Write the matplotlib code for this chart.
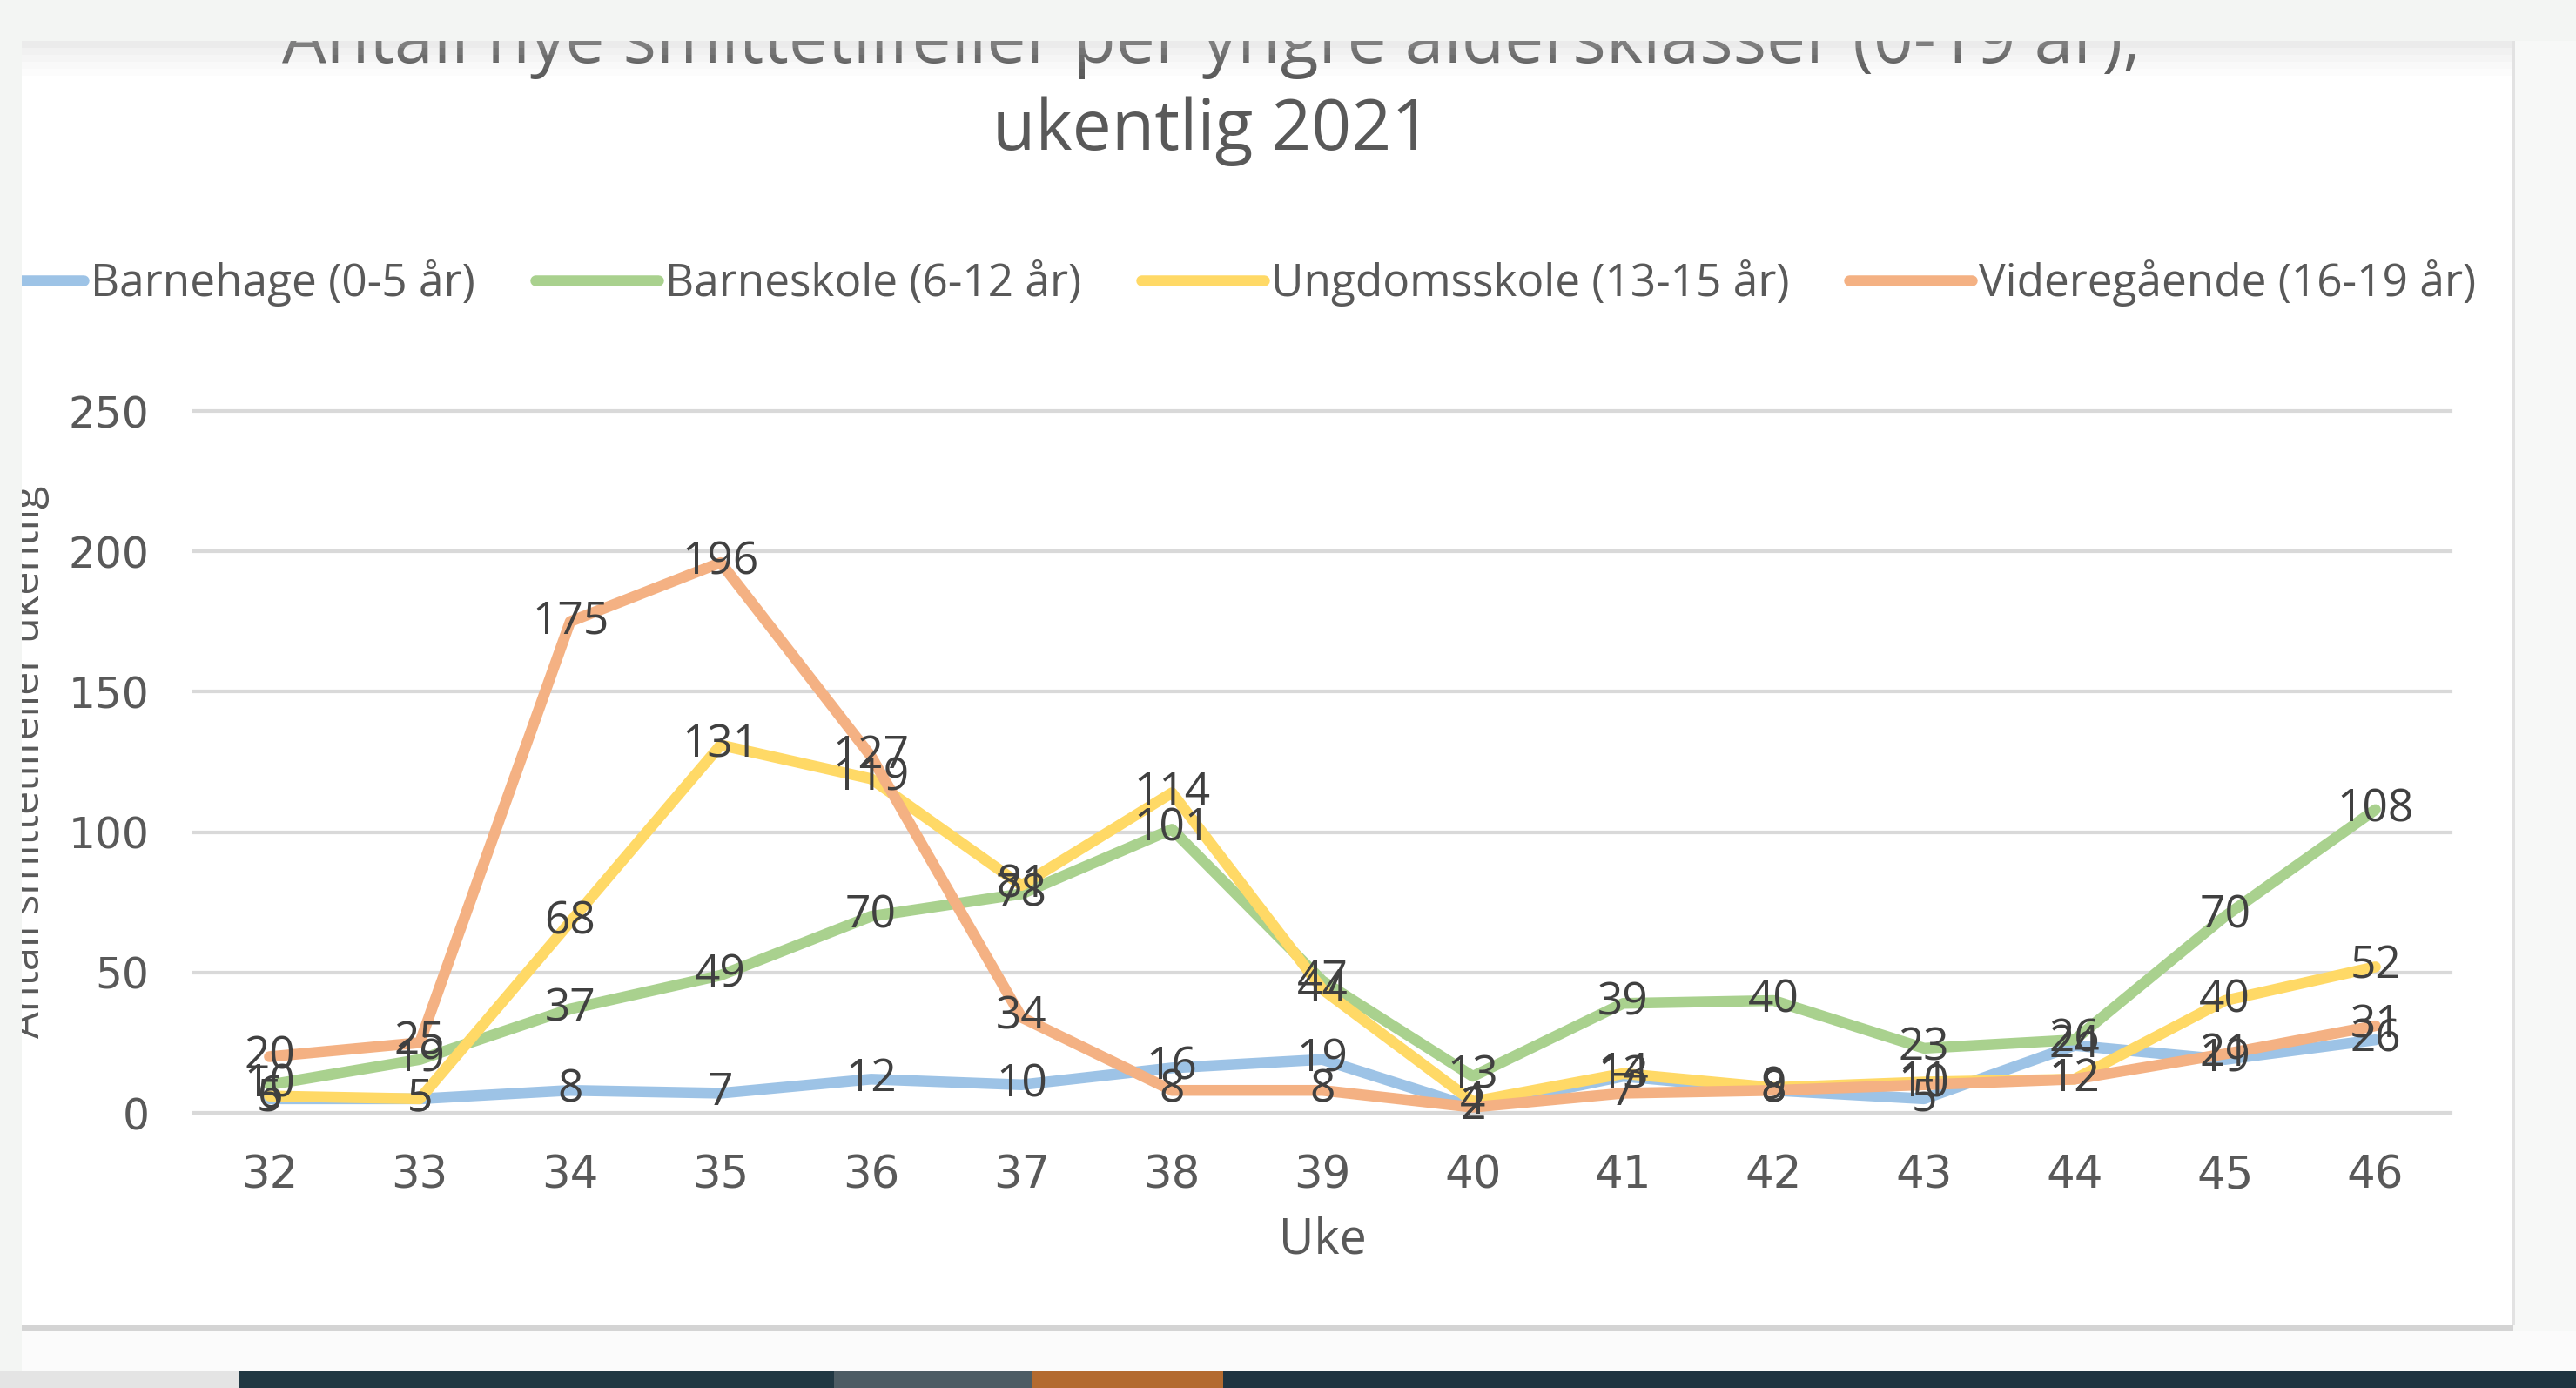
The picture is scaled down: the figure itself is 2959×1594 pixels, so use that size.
import matplotlib
matplotlib.use('Agg')
import matplotlib.pyplot as plt
from matplotlib.patches import Rectangle

W, H = 2959, 1594

weeks = [32, 33, 34, 35, 36, 37, 38, 39, 40, 41, 42, 43, 44, 45, 46]
barnehage = [5, 5, 8, 7, 12, 10, 16, 19, 2, 13, 8, 5, 24, 19, 26]
barneskole = [10, 19, 37, 49, 70, 78, 101, 47, 13, 39, 40, 23, 26, 70, 108]
ungdomsskole = [6, 5, 68, 131, 119, 81, 114, 44, 4, 14, 9, 11, 12, 40, 52]
videregaende = [20, 25, 175, 196, 127, 34, 8, 8, 2, 7, 8, 10, 12, 21, 31]

series = [
    ('Barnehage (0-5 år)', barnehage, '#9dc3e6'),
    ('Barneskole (6-12 år)', barneskole, '#a9d18e'),
    ('Ungdomsskole (13-15 år)', ungdomsskole, '#ffd966'),
    ('Videregående (16-19 år)', videregaende, '#f4b183'),
]

txt = '#595959'
lab = '#404040'
plt.rcParams['font.family'] = ['Open Sans', 'DejaVu Sans']


def px(x, y):
    return x / W, 1 - y / H


def rect(x0, y0, x1, y1, color, z, alpha=1.0):
    fx, fy = px(x0, y1)
    fig.patches.append(Rectangle((fx, fy), (x1 - x0) / W, (y1 - y0) / H,
                                 transform=fig.transFigure, facecolor=color,
                                 edgecolor='none', zorder=z, alpha=alpha))


fig = plt.figure(figsize=(W / 100, H / 100), dpi=100)
fig.patch.set_facecolor('#f3f5f3')

# white chart card
rect(25, 47, 2887, 1522, 'white', -5)

left, right, top, bottom = 223, 2815, 472, 1278
ax = fig.add_axes([left / W, 1 - bottom / H, (right - left) / W, (bottom - top) / H])
ax.set_facecolor('white')

for name, vals, col in series:
    ax.plot(weeks, vals, color=col, lw=9, label=name,
            solid_capstyle='round', solid_joinstyle='round')
for name, vals, col in series:
    for w, v in zip(weeks, vals):
        ax.text(w, v, str(v), ha='center', va='center', fontsize=37, color=lab, zorder=5)

ax.set_xlim(31.5, 46.5)
ax.set_ylim(0, 250)
ax.set_yticks([0, 50, 100, 150, 200, 250])
ax.set_xticks(weeks)
ax.yaxis.grid(True, color='#d9d9d9', lw=3)
for gl in ax.get_ygridlines():
    gl.set_clip_on(False)
ax.set_axisbelow(True)
for s in ax.spines.values():
    s.set_visible(False)
ax.tick_params(length=0)
ax.tick_params(axis='y', pad=37, labelsize=35, labelcolor=txt)
ax.tick_params(axis='x', pad=34, labelsize=37, labelcolor=txt)
for t in ax.get_xticklabels() + ax.get_yticklabels():
    t.set_fontfamily('DejaVu Sans')

ax.set_xlabel('Uke', fontsize=40, color=txt, va='center')
ax.xaxis.set_label_coords(0.5, -(1425 - bottom) / (bottom - top))
ax.set_ylabel('Antall smittetilfeller ukentlig', fontsize=35, color=txt, va='center')
ax.yaxis.set_label_coords(-(left - 32) / (right - left), 0.5)

# title, top line partly hidden under the screen band
fig.text(*px(1392, 72), 'Antall nye smittetilfeller per yngre aldersklasser (0-19 år),',
         ha='center', va='baseline', fontsize=58, color=txt, zorder=1)
fig.text(*px(1392, 172), 'ukentlig 2021', ha='center', va='baseline',
         fontsize=58, color=txt, zorder=1)

leg = fig.legend(loc='center left', bbox_to_anchor=px(-45, 325), ncol=4, frameon=False,
                 fontsize=37, handlelength=2.75, handletextpad=0.15, columnspacing=1.34,
                 borderpad=0, borderaxespad=0)
for t in leg.get_texts():
    t.set_color(txt)
for l in leg.get_lines():
    l.set_linewidth(9)

# screenshot surroundings
rect(0, 0, 25, H, '#f3f5f3', 10)
rect(0, 0, W, 47, '#f3f5f3', 10)
for i, a in enumerate([0.35, 0.25, 0.17, 0.1, 0.05]):
    rect(25, 47 + i * 8, W, 55 + i * 8, '#c8c8c8', 9, a)
rect(2887, 47, W, 1575, '#f7f8f7', 10)
rect(2885, 47, 2889, 1522, '#e2e2e2', 10)
rect(25, 1522, 2887, 1528, '#d4d4d4', 10)
rect(25, 1528, W, 1575, '#fbfbfb', 10)
rect(0, 1575, 274, H, '#e4e4e4', 10)
rect(274, 1575, 958, H, '#213843', 10)
rect(958, 1575, 1185, H, '#4d5c64', 10)
rect(1185, 1575, 1405, H, '#b36a2f', 10)
rect(1405, 1575, W, H, '#1f3441', 10)

fig.savefig('out.png', dpi=100, facecolor=fig.get_facecolor())
